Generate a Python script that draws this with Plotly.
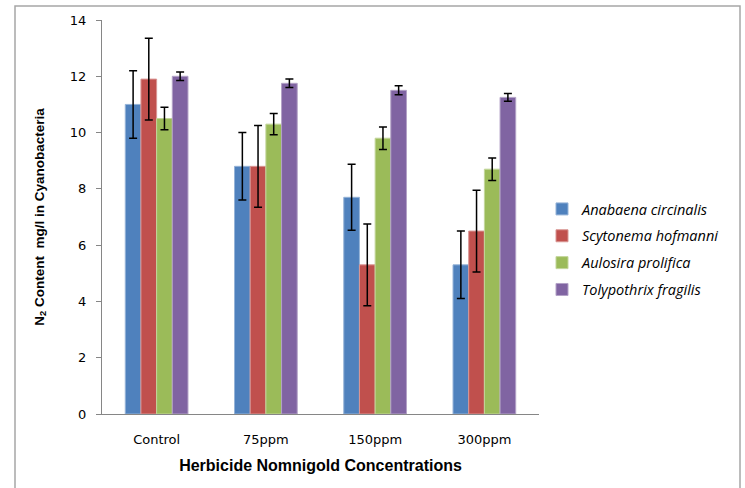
import plotly.graph_objects as go

categories = ["Control", "75ppm", "150ppm", "300ppm"]
series_names = ["Anabaena circinalis", "Scytonema hofmanni", "Aulosira prolifica", "Tolypothrix fragilis"]
anabaena = [11.0, 8.8, 7.7, 5.3]
scytonema = [11.9, 8.8, 5.3, 6.5]
aulosira = [10.5, 10.3, 9.8, 8.7]
tolypothrix = [12.0, 11.75, 11.5, 11.25]
anabaena_err = [1.2, 1.2, 1.17, 1.2]
scytonema_err = [1.45, 1.45, 1.45, 1.45]
aulosira_err = [0.4, 0.38, 0.4, 0.4]
tolypothrix_err = [0.15, 0.15, 0.16, 0.14]
colors = ["#4F81BD", "#C0504D", "#9BBB59", "#8064A2"]
edge_colors = ["#95B3D7", "#D99694", "#C3D69B", "#B3A2C7"]
y_ticks = [0, 2, 4, 6, 8, 10, 12, 14]

values = [anabaena, scytonema, aulosira, tolypothrix]
errors = [anabaena_err, scytonema_err, aulosira_err, tolypothrix_err]

fig = go.Figure()
for i, name in enumerate(series_names):
    fig.add_trace(go.Bar(
        x=categories, y=values[i], name=name,
        legendgroup=f"g{i}",
        marker=dict(color=colors[i], line=dict(color=edge_colors[i], width=1)),
        error_y=dict(type="data", array=errors[i], visible=True,
                     color="black", thickness=1.5, width=4),
    ))

W, H = 745, 488
L, R, T, B = 102, 539, 20, 414

def px_x(p):
    return (p - L) / (R - L)

def px_y(p):
    return (B - p) / (B - T)

fig.update_layout(
    width=W, height=H,
    margin=dict(l=L, r=W - R, t=T, b=H - B),
    paper_bgcolor="white", plot_bgcolor="white",
    barmode="group", bargap=0.426, bargroupgap=0,
    font=dict(family="DejaVu Sans", size=13, color="black"),
    showlegend=True,
    legend=dict(
        x=px_x(542), y=px_y(193), xanchor="left", yanchor="top",
        font=dict(family="Open Sans", size=14.5, color="black", style="italic"),
        tracegroupgap=5, bgcolor="rgba(0,0,0,0)",
    ),
    xaxis=dict(
        showline=True, linecolor="#868686", linewidth=1,
        ticks="", showgrid=False,
        tickfont=dict(family="DejaVu Sans", size=13, color="black"),
        ticklabelstandoff=13,
        title=dict(text="Herbicide Nomnigold Concentrations",
                   font=dict(family="Liberation Sans", size=16, color="black", weight="bold"),
                   standoff=14),
    ),
    yaxis=dict(
        range=[0, 14], tickvals=y_ticks,
        showline=True, linecolor="#868686", linewidth=1,
        ticks="outside", ticklen=5, tickcolor="#868686",
        showgrid=False, zeroline=False,
        tickfont=dict(family="DejaVu Sans", size=13, color="black"),
        ticklabelstandoff=7,
        title=dict(text="N<sub>2</sub> Content  mg/l in Cyanobacteria",
                   font=dict(family="Liberation Sans", size=13.5, color="black", weight="bold"),
                   standoff=22),
    ),
    shapes=[dict(
        type="rect", xref="paper", yref="paper",
        x0=px_x(15), x1=px_x(740), y0=px_y(520), y1=px_y(6),
        line=dict(color="#A6A6A6", width=1.5), fillcolor="rgba(0,0,0,0)",
        layer="below",
    )],
)

fig.write_html("out.html")
